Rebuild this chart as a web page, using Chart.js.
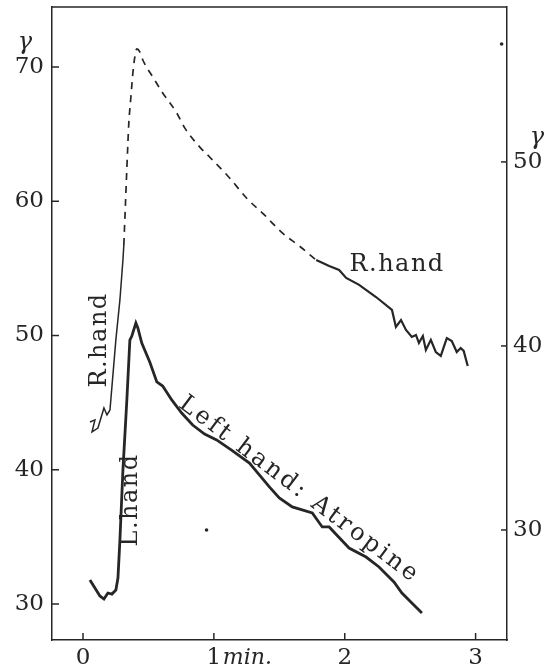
<!DOCTYPE html>
<html>
<head>
<meta charset="utf-8">
<script src="https://cdn.jsdelivr.net/npm/chart.js@4"></script>
<style>
  html, body { margin: 0; padding: 0; background: #fff; }
  canvas { display: block; }
</style>
</head>
<body>
<canvas id="chart" width="550" height="668"></canvas>
<script>
// left hand (atropine) - read on the left scale
const lTime = [0.053, 0.091, 0.129, 0.160, 0.190, 0.221, 0.251, 0.267, 0.282, 0.305, 0.335, 0.358, 0.373, 0.404,
  0.419, 0.449, 0.510, 0.564, 0.609, 0.678, 0.754, 0.838, 0.929, 1.021, 1.135, 1.272, 1.424, 1.500, 1.599, 1.752,
  1.828, 1.881, 2.033, 2.163, 2.262, 2.376, 2.437, 2.513, 2.590]
const lVal = [31.79, 31.19, 30.60, 30.37, 30.82, 30.74, 31.04, 31.94, 34.77, 39.98, 45.2, 49.66, 49.96, 50.93,
  50.56, 49.44, 48.03, 46.54, 46.24, 45.2, 44.23, 43.33, 42.66, 42.22, 41.47, 40.50, 38.72, 37.90, 37.23, 36.78,
  35.74, 35.74, 34.17, 33.50, 32.76, 31.64, 30.82, 30.07, 29.33]

// right hand - read on the right scale: solid start, dashed gap, solid tail
const rStartTime = [0.053, 0.091, 0.069, 0.114, 0.160, 0.183, 0.206, 0.251, 0.282, 0.305, 0.312]
const rStartVal = [35.87, 35.98, 35.33, 35.54, 36.63, 36.25, 36.52, 40.33, 42.5, 44.67, 45.49]
const rGapTime = [0.312, 0.327, 0.343, 0.350, 0.366, 0.381, 0.396, 0.411, 0.434, 0.457, 0.533, 0.609, 0.716,
  0.777, 0.891, 0.967, 1.120, 1.249, 1.386, 1.523, 1.653, 1.782]
const rGapVal = [45.49, 48.21, 51.03, 52.12, 53.53, 54.84, 55.71, 56.14, 55.98, 55.54, 54.62, 53.75, 52.66,
  51.85, 50.82, 50.27, 49.13, 48.04, 47.12, 46.14, 45.43, 44.67]
const rEndTime = [1.782, 1.881, 1.957, 2.011, 2.110, 2.239, 2.361, 2.391, 2.430, 2.468, 2.513, 2.544, 2.567,
  2.597, 2.620, 2.658, 2.696, 2.734, 2.780, 2.818, 2.856, 2.886, 2.909, 2.940]
const rEndVal = [44.67, 44.35, 44.13, 43.70, 43.32, 42.66, 41.96, 41.03, 41.41, 40.87, 40.49, 40.60, 40.16,
  40.54, 39.78, 40.33, 39.67, 39.46, 40.43, 40.27, 39.67, 39.89, 39.73, 38.91]

// stray specks on the plate (left scale)
const speckTime = [0.944, 3.199]
const speckVal = [35.51, 71.71]

const leftTicks = [30, 40, 50, 60, 70]
const rightTicks = [30, 40, 50]
const timeTicks = [0, 1, 2, 3]

const ink = '#262626'
const tickFont = { family: 'DejaVu Serif', size: 23 }
const pts = (xs, ys) => xs.map((x, i) => ({ x, y: ys[i] }))

// labels written on the plate, placed in left-scale units
const notes = [
  { text: 'R.hand', x: 0.129, y: 49.67, rot: -90, spacing: 1.5 },
  { text: 'L.hand', x: 0.366, y: 37.75, rot: -90, spacing: 1.5 },
  { text: 'R.hand', x: 2.40, y: 55.25, rot: 0, spacing: 1.5 },
  { text: 'Left hand: Atropine', x: 1.653, y: 38.49, rot: 37, spacing: 3 }
]

const framePlugin = {
  id: 'frame',
  afterDraw(chart) {
    const { ctx, chartArea: a, scales } = chart
    ctx.save()
    ctx.strokeStyle = ink
    ctx.lineWidth = 1.5
    const line = (x1, y1, x2, y2) => { ctx.beginPath(); ctx.moveTo(x1, y1); ctx.lineTo(x2, y2); ctx.stroke() }
    line(a.left, a.top, a.right, a.top)
    scales.y.ticks.forEach(t => { const p = scales.y.getPixelForValue(t.value); line(a.left, p, a.left + 7, p) })
    scales.y1.ticks.forEach(t => { const p = scales.y1.getPixelForValue(t.value); line(a.right - 6, p, a.right, p) })
    scales.x.ticks.forEach(t => { const p = scales.x.getPixelForValue(t.value); line(p, a.bottom, p, a.bottom - 7) })

    ctx.fillStyle = ink
    ctx.textAlign = 'center'
    ctx.textBaseline = 'middle'
    ctx.font = 'italic 24px "DejaVu Serif"'
    ctx.fillText('γ', 25, scales.y.getPixelForValue(70) - 24)
    ctx.fillText('γ', 537, scales.y1.getPixelForValue(50) - 24)
    ctx.font = 'italic 22px "DejaVu Serif"'
    ctx.textAlign = 'left'
    ctx.fillText('min.', scales.x.getPixelForValue(1) + 9, a.bottom + 18)

    ctx.font = '24px "DejaVu Serif"'
    ctx.textAlign = 'center'
    notes.forEach(n => {
      ctx.save()
      ctx.letterSpacing = n.spacing + 'px'
      ctx.translate(scales.x.getPixelForValue(n.x), scales.y.getPixelForValue(n.y))
      ctx.rotate(n.rot * Math.PI / 180)
      ctx.fillText(n.text, 0, 0)
      ctx.restore()
    })
    ctx.restore()
  }
}

const noPad = s => { s.paddingTop = 0; s.paddingBottom = 0; s.paddingLeft = 0; s.paddingRight = 0 }

new Chart(document.getElementById('chart'), {
  type: 'scatter',
  data: {
    datasets: [
      { label: 'L.hand', data: pts(lTime, lVal), yAxisID: 'y', showLine: true, borderColor: ink, borderWidth: 2.8, pointRadius: 0 },
      { label: 'R.hand', data: pts(rStartTime, rStartVal), yAxisID: 'y1', showLine: true, borderColor: ink, borderWidth: 1.5, pointRadius: 0 },
      { label: 'R.hand (gap)', data: pts(rGapTime, rGapVal), yAxisID: 'y1', showLine: true, borderColor: ink, borderWidth: 1.7,
        borderDash: [7, 6], pointRadius: 0, cubicInterpolationMode: 'monotone' },
      { label: 'R.hand (tail)', data: pts(rEndTime, rEndVal), yAxisID: 'y1', showLine: true, borderColor: ink, borderWidth: 2.2, pointRadius: 0 },
      { label: 'specks', data: pts(speckTime, speckVal), yAxisID: 'y', pointRadius: 1.8, backgroundColor: ink, borderWidth: 0 }
    ]
  },
  options: {
    responsive: false,
    animation: false,
    layout: { padding: { top: 7, left: 0, right: 0, bottom: 0 } },
    plugins: { legend: { display: false }, tooltip: { enabled: false } },
    scales: {
      x: {
        type: 'linear', min: -0.237, max: 3.24,
        afterBuildTicks: s => { s.ticks = timeTicks.map(v => ({ value: v })) },
        afterFit: s => { s.height = 28; noPad(s) },
        grid: { display: false, drawTicks: false },
        border: { color: ink, width: 1.5 },
        ticks: { font: tickFont, color: ink, padding: 4, maxRotation: 0, autoSkip: false }
      },
      y: {
        position: 'left', min: 27.32, max: 74.47,
        afterBuildTicks: s => { s.ticks = leftTicks.map(v => ({ value: v })) },
        afterFit: s => { s.width = 52; noPad(s) },
        grid: { display: false, drawTicks: false },
        border: { color: ink, width: 1.5 },
        ticks: { font: tickFont, color: ink, padding: 8 }
      },
      y1: {
        position: 'right', min: 24.02, max: 58.42,
        afterBuildTicks: s => { s.ticks = rightTicks.map(v => ({ value: v })) },
        afterFit: s => { s.width = 43; noPad(s) },
        grid: { display: false, drawTicks: false },
        border: { color: ink, width: 1.5 },
        ticks: { font: tickFont, color: ink, padding: 6 }
      }
    }
  },
  plugins: [framePlugin]
})
</script>
</body>
</html>
